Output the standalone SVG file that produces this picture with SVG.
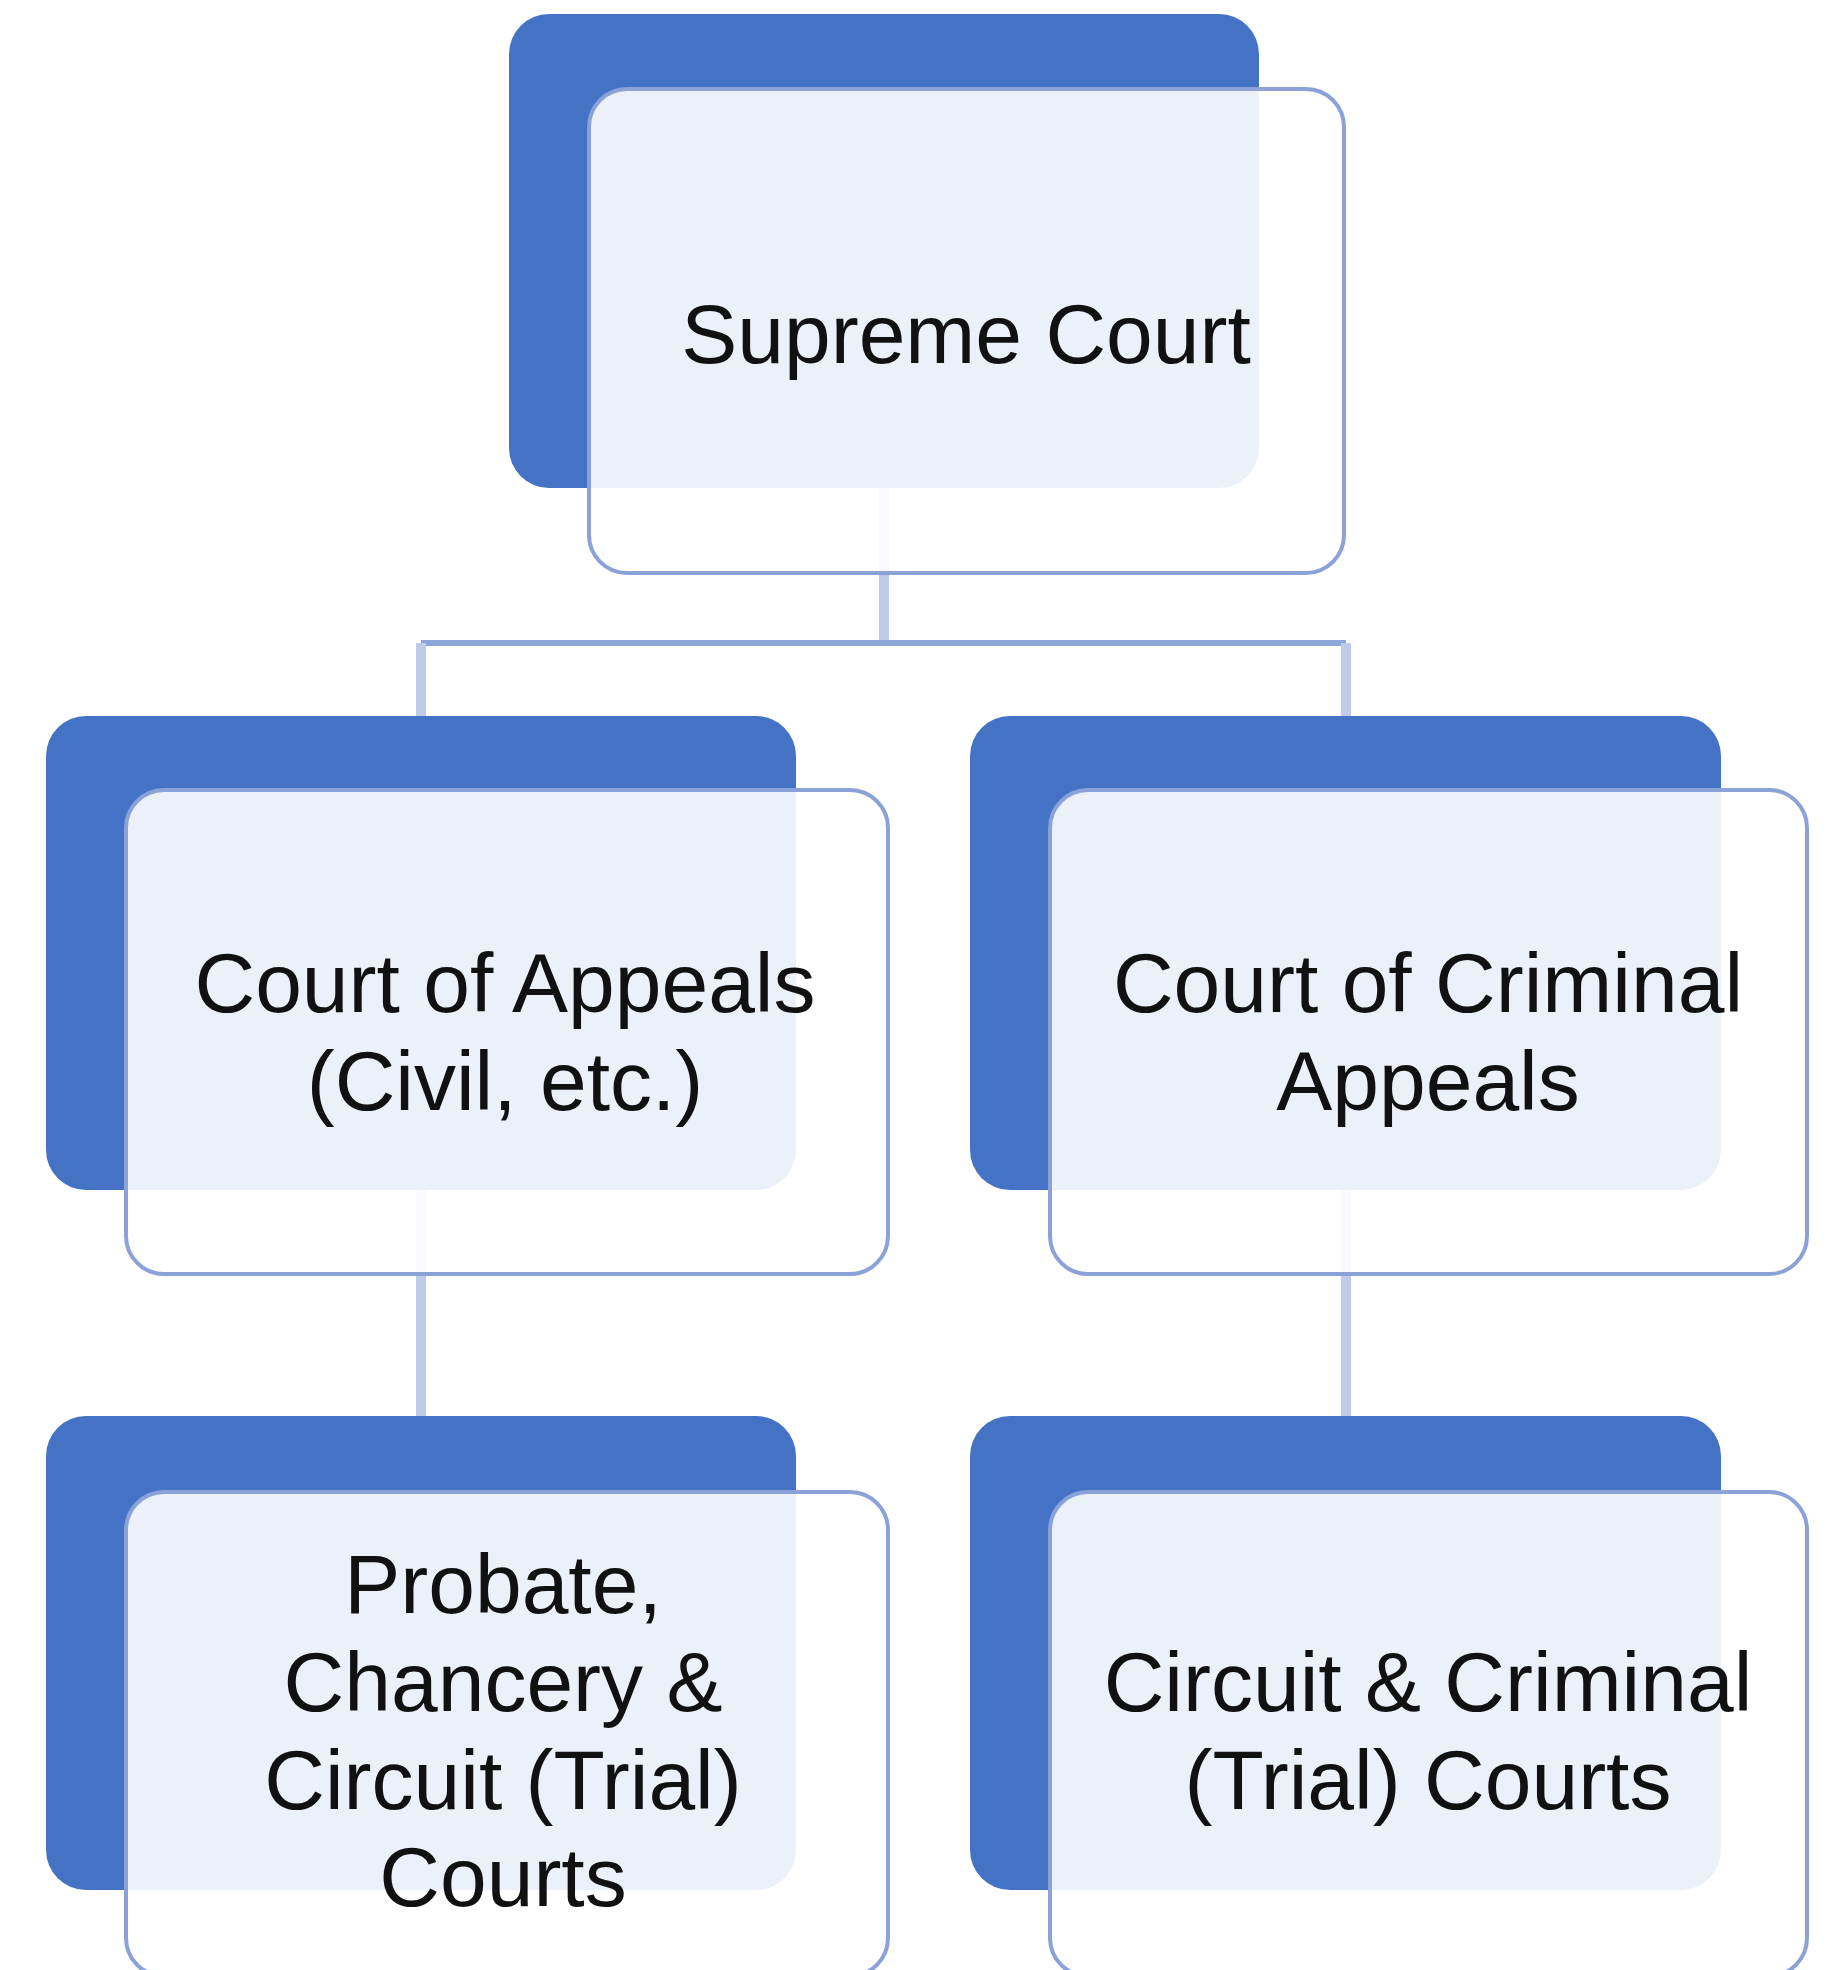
<svg xmlns="http://www.w3.org/2000/svg" width="1828" height="1970" viewBox="0 0 1828 1970">
<style>
.back{fill:#4472C4;}
.front{fill:#FFFFFF;fill-opacity:0.9;stroke:#8AA2D8;stroke-width:4;}
.hline{stroke:#8EA5DA;stroke-width:6;fill:none;}
.vline{stroke:#BFCBE8;stroke-width:10;fill:none;}
.lbl{font-family:"Liberation Sans",Arial,sans-serif;font-size:84px;fill:#111111;text-anchor:middle;}
</style>
<rect width="1828" height="1970" fill="#FFFFFF"/>
<g id="connectors">
<line class="vline" x1="884" y1="488" x2="884" y2="643"/>
<line class="hline" x1="421" y1="643" x2="1346" y2="643"/>
<line class="vline" x1="421" y1="643" x2="421" y2="716"/>
<line class="vline" x1="1346" y1="643" x2="1346" y2="716"/>
<line class="vline" x1="421" y1="1190" x2="421" y2="1416"/>
<line class="vline" x1="1346" y1="1190" x2="1346" y2="1416"/>
</g>
<g id="supreme-court">
<rect class="back" x="509" y="14" width="750" height="474" rx="40"/>
<rect class="front" x="589" y="89" width="755" height="484" rx="38"/>
<text class="lbl" x="966" y="363">Supreme Court</text>
</g>
<g id="court-of-appeals">
<rect class="back" x="46" y="716" width="750" height="474" rx="40"/>
<rect class="front" x="126" y="790" width="762" height="484" rx="38"/>
<text class="lbl" x="505" y="1012">Court of Appeals<tspan x="505" dy="98">(Civil, etc.)</tspan></text>
</g>
<g id="court-of-criminal-appeals">
<rect class="back" x="970" y="716" width="751" height="474" rx="40"/>
<rect class="front" x="1050" y="790" width="757" height="484" rx="38"/>
<text class="lbl" x="1428" y="1012">Court of Criminal<tspan x="1428" dy="98">Appeals</tspan></text>
</g>
<g id="probate-chancery-circuit">
<rect class="back" x="46" y="1416" width="750" height="474" rx="40"/>
<rect class="front" x="126" y="1492" width="762" height="484" rx="38"/>
<text class="lbl" x="503" y="1613">Probate,<tspan x="503" dy="98">Chancery &amp;</tspan><tspan x="503" dy="98">Circuit (Trial)</tspan><tspan x="503" dy="97">Courts</tspan></text>
</g>
<g id="circuit-criminal">
<rect class="back" x="970" y="1416" width="751" height="474" rx="40"/>
<rect class="front" x="1050" y="1492" width="757" height="484" rx="38"/>
<text class="lbl" x="1428" y="1711">Circuit &amp; Criminal<tspan x="1428" dy="98">(Trial) Courts</tspan></text>
</g>
</svg>
